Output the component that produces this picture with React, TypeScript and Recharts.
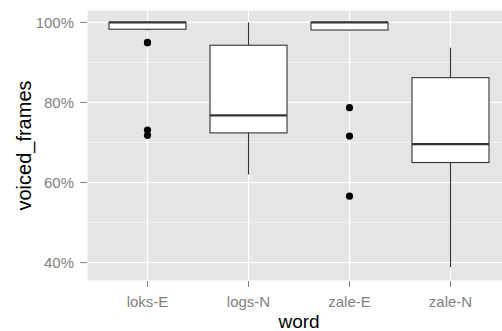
import React from 'react';
import { ComposedChart, Bar, XAxis, YAxis, CartesianGrid } from 'recharts';

document.body.style.margin = '0';

const words = ['loks-E', 'logs-N', 'zale-E', 'zale-N'];
const whiskerLow = [98.0, 62.0, 98.0, 38.9];
const q1 = [98.3, 72.4, 98.1, 65.0];
const median = [100, 76.8, 100, 69.6];
const q3 = [100, 94.3, 100, 86.2];
const whiskerHigh = [100, 100, 100, 93.7];
const outliers = [[95.0, 94.9, 73.1, 71.8], [], [78.7, 71.6, 56.6], []];

const majorTicks = [40, 60, 80, 100];
const minorTicks = [50, 70, 90];
const yDomain = [35.4, 103.1];

const data = words.map((word, i) => ({
  word,
  range: [whiskerLow[i], whiskerHigh[i]],
  lo: whiskerLow[i],
  q1: q1[i],
  med: median[i],
  q3: q3[i],
  hi: whiskerHigh[i],
  out: outliers[i],
}));

const INK = '#333333';

// draws whiskers, box, median and outliers; the bar's own y/height gives the scale
function BoxShape(props: any) {
  const { x, y, width, height, payload } = props;
  const { lo, hi } = payload;
  const toY = (v: number) => y + ((hi - v) / (hi - lo)) * height;
  const cx = x + width / 2;
  return (
    <g>
      <line x1={cx} x2={cx} y1={toY(hi)} y2={toY(payload.q3)} stroke={INK} strokeWidth={1.1} />
      <line x1={cx} x2={cx} y1={toY(payload.q1)} y2={toY(lo)} stroke={INK} strokeWidth={1.1} />
      <rect
        x={x}
        y={toY(payload.q3)}
        width={width}
        height={toY(payload.q1) - toY(payload.q3)}
        fill="#ffffff"
        stroke={INK}
        strokeWidth={1.1}
      />
      <line x1={x} x2={x + width} y1={toY(payload.med)} y2={toY(payload.med)} stroke={INK} strokeWidth={2.2} />
      {payload.out.map((v: number, i: number) => (
        <circle key={i} cx={cx} cy={toY(v)} r={3.6} fill="#000000" />
      ))}
    </g>
  );
}

export default function App() {
  return (
    <div style={{ width: 502, height: 331, overflow: 'hidden', fontFamily: 'Liberation Sans, Arial, sans-serif' }}>
      <ComposedChart width={511} height={331} data={data} margin={{ top: 10, right: 0, bottom: 0, left: 0 }}>
        <CartesianGrid fill="#e5e5e5" stroke="#f2f2f2" strokeWidth={1} vertical={false} yAxisId="minor" />
        <CartesianGrid stroke="#ffffff" strokeWidth={1.2} />
        <XAxis
          dataKey="word"
          padding={{ left: 10, right: 10 }}
          height={50}
          axisLine={false}
          tickSize={6}
          tickMargin={9}
          tickLine={{ stroke: '#7f7f7f' }}
          tick={{ fill: '#7f7f7f', fontSize: 15 }}
          label={{ value: 'word', position: 'insideBottom', offset: 3, fill: '#000000', fontSize: 19 }}
        />
        <YAxis yAxisId="minor" type="number" domain={yDomain} allowDataOverflow ticks={minorTicks} hide />
        <YAxis
          type="number"
          domain={yDomain}
          allowDataOverflow
          ticks={majorTicks}
          tickFormatter={(v) => `${v}%`}
          width={87}
          axisLine={false}
          tickSize={7}
          tickMargin={6}
          tickLine={{ stroke: '#7f7f7f' }}
          tick={{ fill: '#7f7f7f', fontSize: 15 }}
          label={{
            value: 'voiced_frames',
            angle: -90,
            position: 'insideLeft',
            offset: 24,
            fill: '#000000',
            fontSize: 20,
            style: { textAnchor: 'middle' },
          }}
        />
        <Bar dataKey="range" barSize={77} shape={<BoxShape />} isAnimationActive={false} />
      </ComposedChart>
    </div>
  );
}
